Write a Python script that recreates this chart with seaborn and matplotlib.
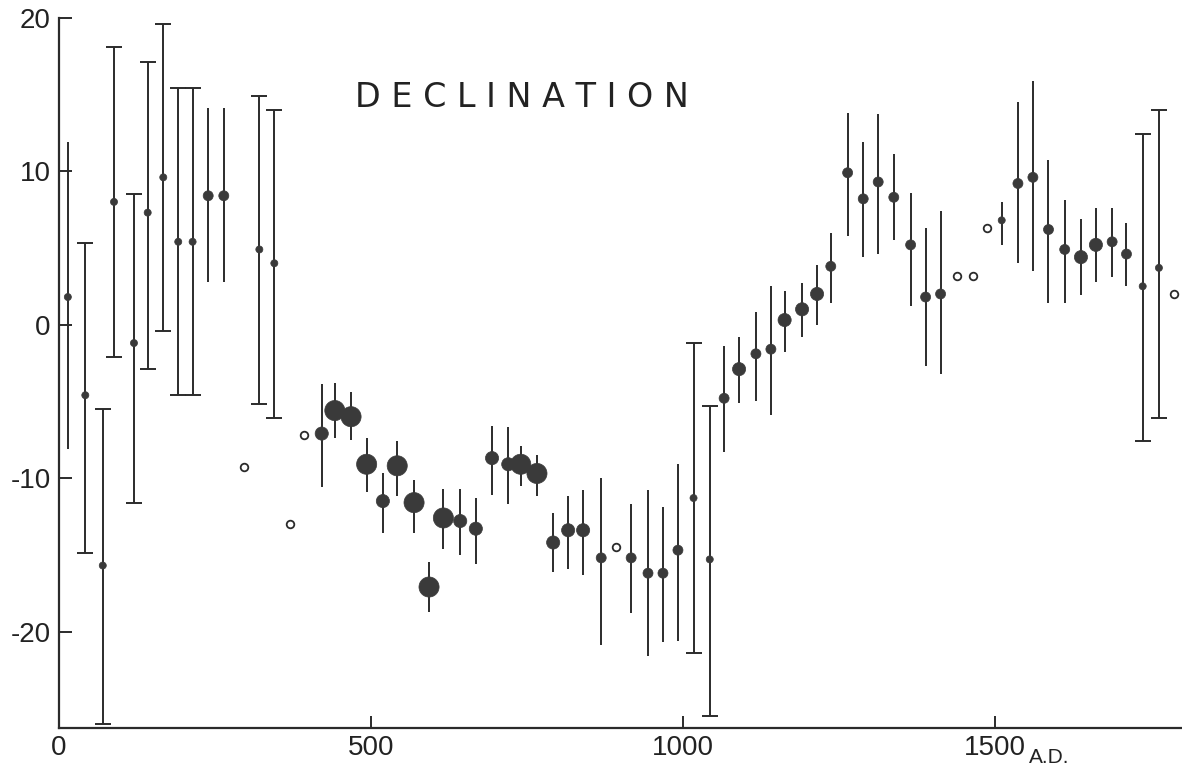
import numpy as np
import pandas as pd
import matplotlib
matplotlib.use("Agg")
import matplotlib.pyplot as plt
import seaborn as sns
import warnings
warnings.filterwarnings("ignore")

sns.set_theme(style="ticks")
plt.rcParams['font.family'] = ['Liberation Sans', 'DejaVu Sans']
plt.rcParams['axes.unicode_minus'] = False

# filled points: year A.D., declination, lower / upper end of bar, size class, caps on bar
year = [14, 42, 70, 88, 120, 142, 167, 191, 214, 239, 264, 321, 345,
        421, 442, 468, 493, 519, 542, 569, 593, 616, 643, 668, 694, 720, 740, 766,
        792, 816, 840, 869, 917, 944, 968, 992, 1017, 1043,
        1066, 1090, 1117, 1141, 1163, 1191, 1215, 1237, 1264, 1289, 1313, 1338,
        1365, 1389, 1413, 1511, 1537, 1561, 1586, 1612, 1638, 1662, 1688, 1711,
        1737, 1763]
dec = [1.8, -4.6, -15.7, 8.0, -1.2, 7.3, 9.6, 5.4, 5.4, 8.4, 8.4, 4.9, 4.0,
       -7.1, -5.6, -6.0, -9.1, -11.5, -9.2, -11.6, -17.1, -12.6, -12.8, -13.3, -8.7, -9.1, -9.1, -9.7,
       -14.2, -13.4, -13.4, -15.2, -15.2, -16.2, -16.2, -14.7, -11.3, -15.3,
       -4.8, -2.9, -1.9, -1.6, 0.3, 1.0, 2.0, 3.8, 9.9, 8.2, 9.3, 8.3,
       5.2, 1.8, 2.0, 6.8, 9.2, 9.6, 6.2, 4.9, 4.4, 5.2, 5.4, 4.6,
       2.5, 3.7]
dec_lo = [-8.1, -14.9, -26.0, -2.1, -11.6, -2.9, -0.4, -4.6, -4.6, 2.8, 2.8, -5.2, -6.1,
          -10.6, -7.4, -7.5, -10.9, -13.6, -11.2, -13.6, -18.7, -14.6, -15.0, -15.6, -11.1, -11.7, -10.5, -11.2,
          -16.1, -15.9, -16.3, -20.9, -18.8, -21.6, -20.7, -20.6, -21.4, -25.5,
          -8.3, -5.1, -5.0, -5.9, -1.8, -0.8, 0.0, 1.4, 5.8, 4.4, 4.6, 5.5,
          1.2, -2.7, -3.2, 5.2, 4.0, 3.5, 1.4, 1.4, 1.9, 2.8, 3.1, 2.5,
          -7.6, -6.1]
dec_hi = [11.9, 5.3, -5.5, 18.1, 8.5, 17.1, 19.6, 15.4, 15.4, 14.1, 14.1, 14.9, 14.0,
          -3.9, -3.8, -4.4, -7.4, -9.7, -7.6, -10.1, -15.5, -10.7, -10.7, -11.3, -6.6, -6.7, -7.9, -8.5,
          -12.3, -11.2, -10.8, -10.0, -11.7, -10.8, -11.9, -9.1, -1.2, -5.3,
          -1.4, -0.8, 0.8, 2.5, 2.2, 2.7, 3.9, 6.0, 13.8, 11.9, 13.7, 11.1,
          8.6, 6.3, 7.4, 8.0, 14.5, 15.9, 10.7, 8.1, 6.9, 7.6, 7.6, 6.6,
          12.4, 14.0]
size_class = [1, 1, 1, 1, 1, 1, 1, 1, 1, 2, 2, 1, 1,
              3, 4, 4, 4, 3, 4, 4, 4, 4, 3, 3, 3, 3, 4, 4,
              3, 3, 3, 2, 2, 2, 2, 2, 1, 1,
              2, 3, 2, 2, 3, 3, 3, 2, 2, 2, 2, 2,
              2, 2, 2, 1, 2, 2, 2, 2, 3, 3, 2, 2,
              1, 1]
capped = [0, 1, 1, 1, 1, 1, 1, 1, 1, 0, 0, 1, 1,
          0, 0, 0, 0, 0, 0, 0, 0, 0, 0, 0, 0, 0, 0, 0,
          0, 0, 0, 0, 0, 0, 0, 0, 1, 1,
          0, 0, 0, 0, 0, 0, 0, 0, 0, 0, 0, 0,
          0, 0, 0, 0, 0, 0, 0, 0, 0, 0, 0, 0,
          1, 1]

# open circles (no bars)
open_year = [296, 370, 393, 893, 1439, 1465, 1487, 1787]
open_dec = [-9.3, -13.0, -7.2, -14.5, 3.2, 3.2, 6.3, 2.0]

df = pd.DataFrame({"year": year, "dec": dec, "lo": dec_lo, "hi": dec_hi,
                   "size": size_class, "cap": capped})
df_open = pd.DataFrame({"year": open_year, "dec": open_dec})

ink = "#2b2b2b"

fig = plt.figure(figsize=(11.82, 7.73), dpi=100)
ax = fig.add_axes([0.05, 0.058, 0.95, 0.919])

capd = df[df["cap"] == 1]
plain = df[df["cap"] == 0]
ax.errorbar(capd["year"], capd["dec"],
            yerr=[capd["dec"] - capd["lo"], capd["hi"] - capd["dec"]],
            fmt="none", ecolor=ink, elinewidth=1.4, capsize=6, capthick=1.4, zorder=2)
ax.vlines(plain["year"], plain["lo"], plain["hi"], color=ink, linewidth=1.4, zorder=2)

sns.scatterplot(data=df, x="year", y="dec", size="size",
                sizes={1: 26, 2: 52, 3: 90, 4: 210},
                color="#3a3a3a", edgecolor="#3a3a3a", linewidth=0.5,
                legend=False, ax=ax, zorder=3)
sns.scatterplot(data=df_open, x="year", y="dec", s=30, facecolor="white",
                edgecolor=ink, linewidth=1.3, legend=False, ax=ax, zorder=3)

ax.set_xlim(0, 1800)
ax.set_ylim(-26.3, 20.0)
ax.set_xticks([0, 500, 1000, 1500])
ax.set_yticks([-20, -10, 0, 10, 20])
ax.set_xlabel("")
ax.set_ylabel("")
ax.tick_params(axis="both", direction="in", length=9, width=1.4, color=ink,
               labelsize=20, labelcolor="#222222")
ax.tick_params(axis="x", pad=5)
ax.tick_params(axis="y", pad=6)
sns.despine(ax=ax)
for s in ["left", "bottom"]:
    ax.spines[s].set_linewidth(1.6)
    ax.spines[s].set_color(ink)

ax.text(742, 14.8, "D E C L I N A T I O N", ha="center", va="center",
        fontsize=24, color="#222222", family=["DejaVu Sans"])
ax.annotate("A.D.", xy=(1555, 0), xycoords=("data", "axes fraction"),
            xytext=(0, -14), textcoords="offset points", ha="left", va="top",
            fontsize=15, color="#222222")

fig.savefig("out.png", dpi=100, facecolor="white")
